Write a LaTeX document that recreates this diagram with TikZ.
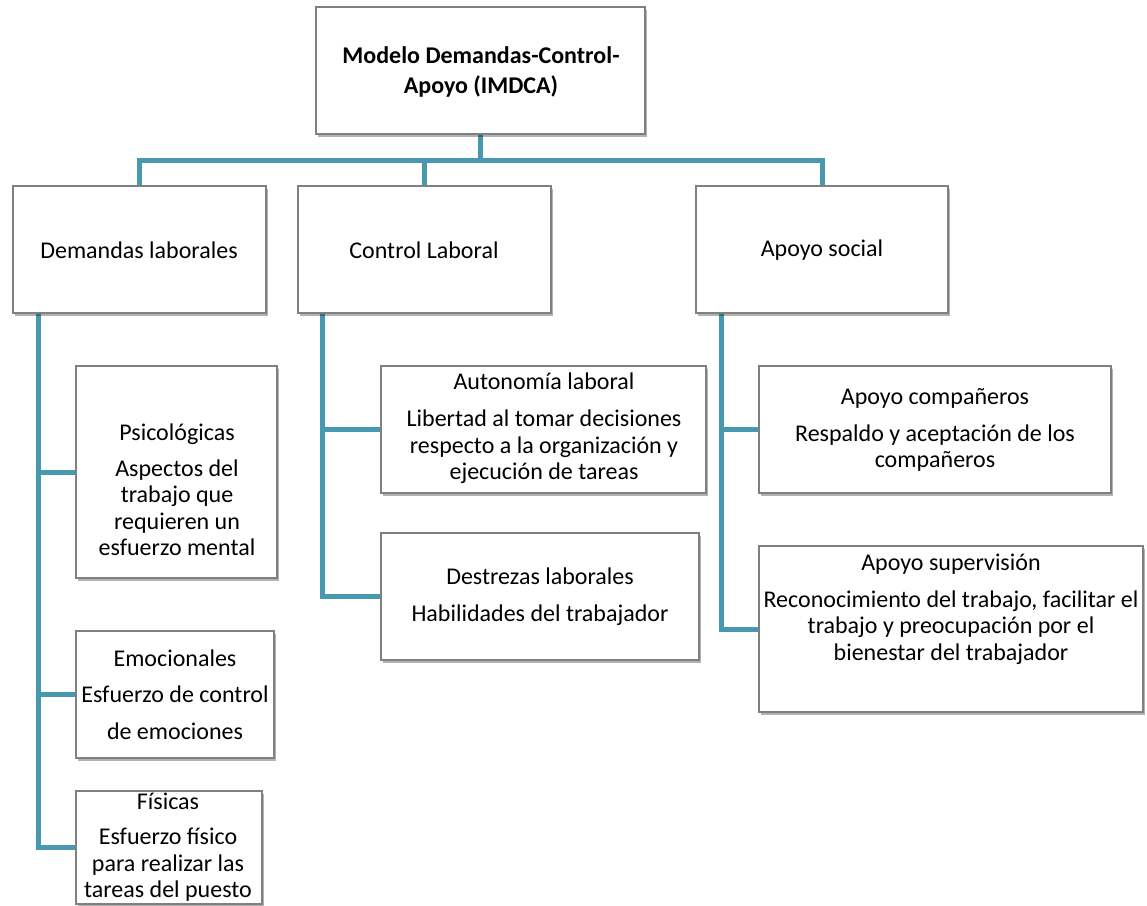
\documentclass[tikz,border=0pt]{standalone}
\usepackage{fontspec}
\setmainfont{Carlito}
\usetikzlibrary{shadows,calc,backgrounds}
\definecolor{conncol}{RGB}{72,152,175}
\definecolor{boxline}{RGB}{128,128,128}
\begin{document}
\begin{tikzpicture}[x=1pt,y=-1pt,
  box/.style={draw=boxline,line width=1.2pt,fill=white,inner sep=0pt,
    drop shadow={shadow xshift=2pt,shadow yshift=-3pt,opacity=0.3,fill=black}},
  link/.style={draw=conncol,line width=5pt},
  txt/.style={align=center,font=\fontsize{24}{26.5}\selectfont,inner sep=0pt}]
\useasboundingbox (0,0) rectangle (1147,905);
% boxes
\node[box,minimum width=329pt,minimum height=127pt] (top) at (480.5,70.5) {};
\node[box,minimum width=253pt,minimum height=127pt] (dem) at (139.5,249.5) {};
\node[box,minimum width=253pt,minimum height=127pt] (ctl) at (424.5,249.5) {};
\node[box,minimum width=252pt,minimum height=127pt] (apo) at (822,249.5) {};
\node[box,minimum width=201pt,minimum height=212pt] (psi) at (176.5,472) {};
\node[box,minimum width=198pt,minimum height=127pt] (emo) at (175,694.5) {};
\node[box,minimum width=186pt,minimum height=113pt] (fis) at (169,847.5) {};
\node[box,minimum width=325pt,minimum height=127pt] (aut) at (543.5,429.5) {};
\node[box,minimum width=318pt,minimum height=127pt] (des) at (540,596.5) {};
\node[box,minimum width=352pt,minimum height=127pt] (com) at (935,429.5) {};
\node[box,minimum width=384pt,minimum height=166pt] (sup) at (951,629) {};
% texts
\node[txt,font=\fontsize{24}{30}\selectfont\bfseries] (ttop) at (481,72) {Modelo Demandas-Control-\\Apoyo (IMDCA)};
\node[txt] (tdem) at (139,250) {Demandas laborales};
\node[txt] (tctl) at (424,250) {Control Laboral};
\node[txt] (tapo) at (822,250) {Apoyo social};
\node[txt] (tpsi) at (177,490) {Psicológicas\\[9pt]Aspectos del\\trabajo que\\requieren un\\esfuerzo mental};
\node[txt] (temo) at (175,694.5) {Emocionales\\[10pt]Esfuerzo de control\\[10pt]de emociones};
\node[txt] (tfis) at (168,847) {Físicas\\[9pt]Esfuerzo físico\\para realizar las\\tareas del puesto};
\node[txt] (taut) at (544,428.5) {Autonomía laboral\\[10.5pt]Libertad al tomar decisiones\\respecto a la organización y\\ejecución de tareas};
\node[txt] (tdes) at (540,596.5) {Destrezas laborales\\[10.5pt]Habilidades del trabajador};
\node[txt] (tcom) at (935,430) {Apoyo compañeros\\[10.5pt]Respaldo y aceptación de los\\compañeros};
\node[txt] (tsup) at (951,609) {Apoyo supervisión\\[10.5pt]Reconocimiento del trabajo, facilitar el\\trabajo y preocupación por el\\bienestar del trabajador};
% connectors
\begin{scope}[on background layer]
\coordinate (bus) at (0,160);
\draw[link] (top.south) -- (top.south |- bus);
\draw[link] (dem.north) |- (apo.north |- bus) -- (apo.north);
\draw[link] (ctl.north) -- (ctl.north |- bus);
\coordinate (dl) at ([xshift=-101.5pt]dem.south);
\draw[link] (dl) |- (fis.west);
\draw[link] (dl) |- (psi.west);
\draw[link] (dl) |- (emo.west);
\coordinate (cl) at ([xshift=-102.5pt]ctl.south);
\draw[link] (cl) |- (des.west);
\draw[link] (cl) |- (aut.west);
\coordinate (al) at ([xshift=-101pt]apo.south);
\draw[link] (al) |- (sup.west);
\draw[link] (al) |- (com.west);
\end{scope}
\end{tikzpicture}
\end{document}
